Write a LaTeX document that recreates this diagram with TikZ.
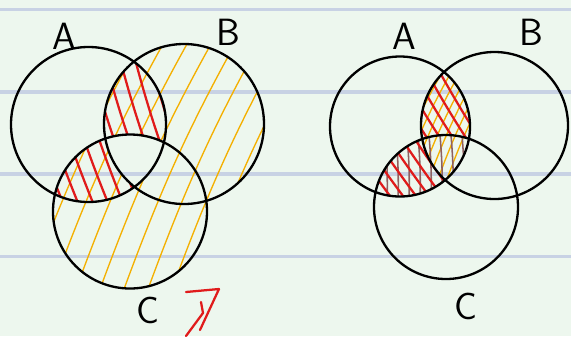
\documentclass[tikz,border=0pt]{standalone}
\definecolor{paper}{HTML}{EDF7EE}
\definecolor{rule}{HTML}{C8D2E4}
\definecolor{hatchorange}{HTML}{F4B000}
\definecolor{hatchred}{HTML}{E01B1B}
\definecolor{hatchbrown}{HTML}{8E6060}
\begin{document}
\begin{tikzpicture}[
    x=0.5mm, y=-0.5mm,
    ruling/.style={draw=rule, line width=5.5pt},
    ring/.style={draw=black, line width=3.3pt},
    setlabel/.style={font=\sffamily\fontsize{54}{54}\selectfont, inner sep=0pt},
    orangehatch/.style={draw=hatchorange, line width=1.9pt, line cap=round},
    redhatch/.style={draw=hatchred, line width=3.2pt, line cap=round},
    brownhatch/.style={draw=hatchbrown, line width=2.2pt, line cap=round}
]
    % --- PAPER ---
    \fill[paper] (0,0) rectangle (571,336);
    \useasboundingbox (0,0) rectangle (571,336);
    \foreach \y in {9.5, 92, 174, 256.5}
        \draw[ruling] (0,\y) -- (571,\y);

    % --- LEFT: (B or C) hatched, minus the middle ---
    \begin{scope}[even odd rule]
        \clip (184,124) circle[radius=80] (130,211.5) circle[radius=77];
        \foreach \x in {-120,-96,...,300}
            \draw[orangehatch] (\x,300) to[bend left=5] ++(140,-300);
    \end{scope}
    \begin{scope}[even odd rule]
        \clip (184,124) circle[radius=80];
        \clip (130,211.5) circle[radius=77];
        \clip (0,0) rectangle (571,336) (88.5,124.5) circle[radius=77.5];
        \foreach \x in {-120,-96,...,300}
            \draw[orangehatch] (\x,300) to[bend left=5] ++(140,-300);
    \end{scope}
    \begin{scope}[even odd rule]
        \clip (88.5,124.5) circle[radius=77.5];
        \clip (184,124) circle[radius=80] (130,211.5) circle[radius=77];
        \foreach \x in {-5,10,...,170}
            \draw[redhatch] (\x,40) to[bend right=4] ++(60,180);
    \end{scope}

    % --- RIGHT: A and B, A and C ---
    \begin{scope}
        \clip (400,126.5) circle[radius=70];
        \clip (494.5,125.5) circle[radius=73.5];
        \foreach \x in {380,389,...,490}
            \draw[orangehatch] (\x,190) to[bend left=5] ++(60,-130);
    \end{scope}
    \begin{scope}
        \clip (400,126.5) circle[radius=70];
        \clip (446,207) circle[radius=72];
        \foreach \x in {385,396,...,465}
            \draw[brownhatch] (\x,135) to[bend left=3] ++(2,70);
    \end{scope}
    \begin{scope}[even odd rule]
        \clip (400,126.5) circle[radius=70];
        \clip (494.5,125.5) circle[radius=73.5] (446,207) circle[radius=72];
        \foreach \x in {290,303,...,480}
            \draw[redhatch] (\x,60) to[bend right=4] ++(90,140);
    \end{scope}

    % --- CIRCLES ---
    \draw[ring] (88.5,124.5) circle[radius=77.5];
    \draw[ring] (184,124) circle[radius=80];
    \draw[ring] (130,211.5) circle[radius=77];
    \draw[ring] (400,126.5) circle[radius=70];
    \draw[ring] (494.5,125.5) circle[radius=73.5];
    \draw[ring] (446,207) circle[radius=72];

    % --- LABELS ---
    \node[setlabel] (labA1) at (64,36) {A};
    \node[setlabel] (labB1) at (228,32) {B};
    \node[setlabel] (labC1) at (148,310) {C};
    \node[setlabel] (labA2) at (404,36) {A};
    \node[setlabel] (labB2) at (531,32) {B};
    \node[setlabel] (labC2) at (466,306) {C};

    % red tick mark
    \draw[hatchred, line width=3.2pt, line cap=round, line join=round]
        (186,292) -- (219,289) -- (200,330);
    \draw[hatchred, line width=3.2pt, line cap=round, line join=round]
        (201,302) -- (203,313) -- (186,336);
\end{tikzpicture}
\end{document}
